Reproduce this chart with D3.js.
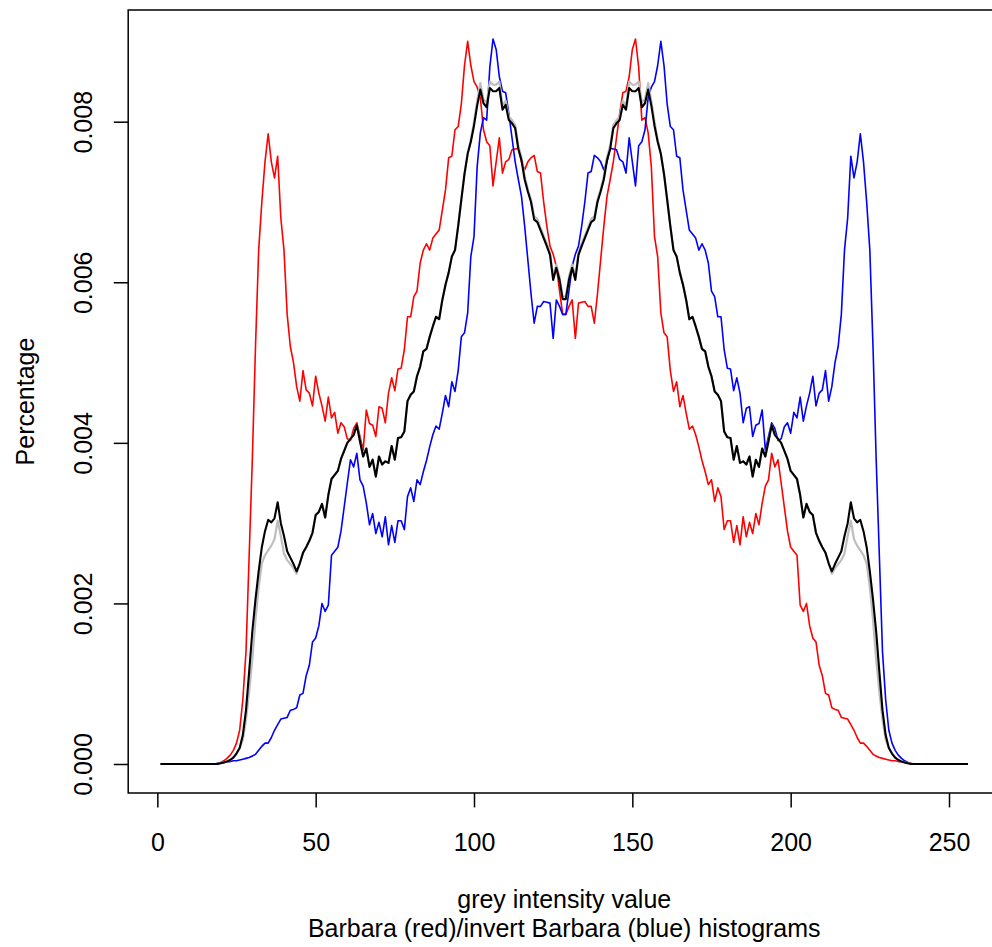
<html>
  <head>
    <meta charset="UTF-8" />
    <style>
      body { margin: 0; background: white; }
      text { font-family: "Liberation Sans", Arial, Helvetica, sans-serif; }
    </style>
    <script src="https://d3js.org/d3.v7.min.js"></script>
  </head>

  <body>
    <svg id="svg"></svg>

    <script>
      // grey level bins 1..256
      var levels = d3.range(1, 257);

      // histogram of Barbara
      var red = [
        0, 0, 0, 0, 0, 0, 0, 0, 0, 0, 0, 0, 0, 0, 0, 0,
        0, 0, 0, 0.00002, 0.00004, 0.00007, 0.00011, 0.00017, 0.00026, 0.00042, 0.0008, 0.0014, 0.0026, 0.0038, 0.0052, 0.0064,
        0.007, 0.0075, 0.00785, 0.0075, 0.0073, 0.00757, 0.0068, 0.0064, 0.0056, 0.0052, 0.005, 0.0047, 0.00452, 0.0049, 0.00466, 0.00462,
        0.00446, 0.00483, 0.00462, 0.00446, 0.00427, 0.00457, 0.00431, 0.00438, 0.00412, 0.00425, 0.0042, 0.00405, 0.00403, 0.00418, 0.00425, 0.00408,
        0.00391, 0.00441, 0.00424, 0.00422, 0.00408, 0.00445, 0.00443, 0.00425, 0.00462, 0.00481, 0.00465, 0.00492, 0.00493, 0.00516, 0.00557, 0.00557,
        0.00582, 0.00589, 0.00624, 0.0064, 0.00648, 0.0064, 0.00655, 0.0066, 0.00665, 0.0069, 0.00715, 0.00755, 0.00757, 0.0079, 0.00794, 0.00822,
        0.0087, 0.009, 0.0087, 0.0085, 0.00843, 0.0083, 0.0079, 0.00775, 0.0077, 0.0072, 0.0075, 0.0078, 0.00736, 0.0075, 0.00753, 0.00765,
        0.00766, 0.00767, 0.0075, 0.0074, 0.0075, 0.00755, 0.00758, 0.00738, 0.00736, 0.007, 0.0067, 0.00645, 0.00635, 0.0062, 0.0059, 0.0056,
        0.0056, 0.0057, 0.00578, 0.0053, 0.00574, 0.00575, 0.00576, 0.0057, 0.0057, 0.00549, 0.00586, 0.00628, 0.0067, 0.00707, 0.00728, 0.0075,
        0.0078, 0.0081, 0.00836, 0.00838, 0.00856, 0.0089, 0.00903, 0.00868, 0.00802, 0.00805, 0.00786, 0.00744, 0.00657, 0.00632, 0.00562, 0.00537,
        0.00532, 0.0049, 0.00464, 0.00476, 0.00445, 0.00459, 0.00437, 0.00417, 0.00421, 0.0041, 0.00395, 0.00378, 0.00364, 0.00348, 0.00354, 0.00327,
        0.00344, 0.00333, 0.00292, 0.00303, 0.00303, 0.00276, 0.00297, 0.00273, 0.00308, 0.00283, 0.00301, 0.00287, 0.00312, 0.00298, 0.00325, 0.00346,
        0.00354, 0.00387, 0.0037, 0.00379, 0.0035, 0.0032, 0.0029, 0.0027, 0.00265, 0.0026, 0.00198, 0.0019, 0.002, 0.00172, 0.00157, 0.00152,
        0.00123, 0.0011, 0.00088, 0.00086, 0.0007, 0.00068, 0.00067, 0.00058, 0.00057, 0.00056, 0.00049, 0.00042, 0.00033, 0.00026, 0.00026, 0.00022,
        0.00017, 0.00012, 0.0001, 0.00008, 0.00007, 0.00006, 0.00005, 0.00004, 0.00004, 0.00003, 0.00003, 0.00002, 0.00001, 0.00001, 0, 0,
        0, 0, 0, 0, 0, 0, 0, 0, 0, 0, 0, 0, 0, 0, 0, 0
      ];

      // histogram of the inverted Barbara
      var blue = [
        0, 0, 0, 0, 0, 0, 0, 0, 0, 0, 0, 0, 0, 0, 0, 0,
        0, 0, 0.00001, 0.00001, 0.00002, 0.00003, 0.00003, 0.00004, 0.00004, 0.00005, 0.00006, 0.00007, 0.00008, 0.0001, 0.00012, 0.00017,
        0.00022, 0.00026, 0.00026, 0.00033, 0.00042, 0.00049, 0.00056, 0.00057, 0.00058, 0.00067, 0.00068, 0.0007, 0.00086, 0.00088, 0.0011, 0.00123,
        0.00152, 0.00157, 0.00172, 0.002, 0.0019, 0.00198, 0.0026, 0.00265, 0.0027, 0.0029, 0.0032, 0.0035, 0.00379, 0.0037, 0.00387, 0.00354,
        0.00346, 0.00325, 0.00298, 0.00312, 0.00287, 0.00301, 0.00283, 0.00308, 0.00273, 0.00297, 0.00276, 0.00303, 0.00303, 0.00292, 0.00333, 0.00344,
        0.00327, 0.00354, 0.00348, 0.00364, 0.00378, 0.00395, 0.0041, 0.00421, 0.00417, 0.00437, 0.00459, 0.00445, 0.00476, 0.00464, 0.0049, 0.00532,
        0.00537, 0.00562, 0.00632, 0.00657, 0.00744, 0.00786, 0.00805, 0.00802, 0.00868, 0.00903, 0.0089, 0.00856, 0.00838, 0.00836, 0.0081, 0.0078,
        0.0075, 0.00728, 0.00707, 0.0067, 0.00628, 0.00586, 0.00549, 0.0057, 0.0057, 0.00576, 0.00575, 0.00574, 0.0053, 0.00578, 0.0057, 0.0056,
        0.0056, 0.0059, 0.0062, 0.00635, 0.00645, 0.0067, 0.007, 0.00736, 0.00738, 0.00758, 0.00755, 0.0075, 0.0074, 0.0075, 0.00767, 0.00766,
        0.00765, 0.00753, 0.0075, 0.00736, 0.0078, 0.0075, 0.0072, 0.0077, 0.00775, 0.0079, 0.0083, 0.00843, 0.0085, 0.0087, 0.009, 0.0087,
        0.00822, 0.00794, 0.0079, 0.00757, 0.00755, 0.00715, 0.0069, 0.00665, 0.0066, 0.00655, 0.0064, 0.00648, 0.0064, 0.00624, 0.00589, 0.00582,
        0.00557, 0.00557, 0.00516, 0.00493, 0.00492, 0.00465, 0.00481, 0.00462, 0.00425, 0.00443, 0.00445, 0.00408, 0.00422, 0.00424, 0.00441, 0.00391,
        0.00408, 0.00425, 0.00418, 0.00403, 0.00405, 0.0042, 0.00425, 0.00412, 0.00438, 0.00431, 0.00457, 0.00427, 0.00446, 0.00462, 0.00483, 0.00446,
        0.00462, 0.00466, 0.0049, 0.00452, 0.0047, 0.005, 0.0052, 0.0056, 0.0064, 0.0068, 0.00757, 0.0073, 0.0075, 0.00785, 0.0075, 0.007,
        0.0064, 0.0052, 0.0038, 0.0026, 0.0014, 0.0008, 0.00042, 0.00026, 0.00017, 0.00011, 0.00007, 0.00004, 0.00002, 0, 0, 0,
        0, 0, 0, 0, 0, 0, 0, 0, 0, 0, 0, 0, 0, 0, 0, 0
      ];

      // combined histogram (black)
      var combined = [
        0, 0, 0, 0, 0, 0, 0, 0, 0, 0, 0, 0, 0, 0, 0, 0,
        0, 0, 0, 0.00001, 0.00002, 0.00003, 0.00005, 0.00008, 0.00013, 0.0002, 0.00036, 0.00067, 0.00115, 0.00165, 0.00205, 0.0024,
        0.0027, 0.0029, 0.00304, 0.00301, 0.00306, 0.00326, 0.003, 0.00284, 0.00265, 0.00257, 0.00249, 0.0024, 0.0025, 0.00263, 0.0027, 0.00278,
        0.00288, 0.0031, 0.00314, 0.00324, 0.00307, 0.00335, 0.00355, 0.0036, 0.00365, 0.0038, 0.0039, 0.004, 0.00405, 0.0041, 0.00422, 0.00402,
        0.00383, 0.00393, 0.0037, 0.00379, 0.00358, 0.00383, 0.00373, 0.00377, 0.00375, 0.00396, 0.00379, 0.00406, 0.00407, 0.00414, 0.00452, 0.0046,
        0.00464, 0.00483, 0.00495, 0.00514, 0.00517, 0.00532, 0.00545, 0.00557, 0.00554, 0.00578, 0.00597, 0.00612, 0.00632, 0.0064, 0.0067, 0.00703,
        0.00735, 0.0076, 0.00775, 0.00795, 0.0082, 0.0084, 0.00823, 0.00818, 0.00842, 0.00838, 0.00838, 0.00842, 0.00815, 0.00821, 0.00802, 0.00798,
        0.00792, 0.00766, 0.00752, 0.00728, 0.00713, 0.007, 0.00678, 0.00675, 0.00665, 0.00655, 0.00645, 0.00634, 0.00603, 0.00618, 0.00603, 0.00579,
        0.00579, 0.00603, 0.00618, 0.00603, 0.00634, 0.00645, 0.00655, 0.00665, 0.00675, 0.00678, 0.007, 0.00713, 0.00728, 0.00752, 0.00766, 0.00792,
        0.00798, 0.00802, 0.00821, 0.00815, 0.00842, 0.00838, 0.00838, 0.00842, 0.00818, 0.00823, 0.0084, 0.0082, 0.00795, 0.00775, 0.0076, 0.00735,
        0.00703, 0.0067, 0.0064, 0.00632, 0.00612, 0.00597, 0.00578, 0.00554, 0.00557, 0.00545, 0.00532, 0.00517, 0.00514, 0.00495, 0.00483, 0.00464,
        0.0046, 0.00452, 0.00414, 0.00407, 0.00406, 0.00379, 0.00396, 0.00375, 0.00377, 0.00373, 0.00383, 0.00358, 0.00379, 0.0037, 0.00393, 0.00383,
        0.00402, 0.00422, 0.0041, 0.00405, 0.004, 0.0039, 0.0038, 0.00365, 0.0036, 0.00355, 0.00335, 0.00307, 0.00324, 0.00314, 0.0031, 0.00288,
        0.00278, 0.0027, 0.00263, 0.0025, 0.0024, 0.00249, 0.00257, 0.00265, 0.00284, 0.003, 0.00326, 0.00306, 0.00301, 0.00304, 0.0029, 0.0027,
        0.0024, 0.00205, 0.00165, 0.00115, 0.00067, 0.00036, 0.0002, 0.00013, 0.00008, 0.00005, 0.00003, 0.00002, 0.00001, 0, 0, 0,
        0, 0, 0, 0, 0, 0, 0, 0, 0, 0, 0, 0, 0, 0, 0, 0
      ];

      // smoothed version (grey, under the black one)
      var smoothed = [
        0, 0, 0, 0, 0, 0, 0, 0, 0, 0, 0, 0, 0, 0, 0, 0,
        0, 0, 0, 0.00001, 0.00002, 0.00003, 0.00005, 0.00008, 0.00013, 0.0002, 0.0003, 0.00055, 0.0009, 0.0013, 0.0018, 0.0022,
        0.0025, 0.0026, 0.00266, 0.00272, 0.0028, 0.00303, 0.00284, 0.00262, 0.00254, 0.00249, 0.00244, 0.00237, 0.0025, 0.00263, 0.0027, 0.00278,
        0.00288, 0.0031, 0.00314, 0.00324, 0.00307, 0.00335, 0.00355, 0.0036, 0.00365, 0.0038, 0.0039, 0.004, 0.00405, 0.0041, 0.00422, 0.00402,
        0.00383, 0.00393, 0.0037, 0.00379, 0.00358, 0.00383, 0.00373, 0.00377, 0.00375, 0.00396, 0.00379, 0.00406, 0.00407, 0.00414, 0.00452, 0.0046,
        0.00464, 0.00483, 0.00495, 0.00514, 0.00517, 0.00532, 0.00545, 0.00557, 0.00554, 0.00578, 0.00597, 0.00612, 0.00632, 0.0064, 0.0067, 0.00703,
        0.00735, 0.0076, 0.00778, 0.008, 0.00826, 0.00848, 0.00828, 0.00824, 0.0085, 0.00846, 0.00846, 0.0085, 0.0082, 0.00826, 0.00806, 0.00802,
        0.00796, 0.0077, 0.00756, 0.00732, 0.00716, 0.00703, 0.00682, 0.00679, 0.00668, 0.00658, 0.00648, 0.00637, 0.00608, 0.00622, 0.00607, 0.00582,
        0.00582, 0.00607, 0.00622, 0.00608, 0.00637, 0.00648, 0.00658, 0.00668, 0.00679, 0.00682, 0.00703, 0.00716, 0.00732, 0.00756, 0.0077, 0.00796,
        0.00802, 0.00806, 0.00826, 0.0082, 0.0085, 0.00846, 0.00846, 0.0085, 0.00824, 0.00828, 0.00848, 0.00826, 0.008, 0.00778, 0.0076, 0.00735,
        0.00703, 0.0067, 0.0064, 0.00632, 0.00612, 0.00597, 0.00578, 0.00554, 0.00557, 0.00545, 0.00532, 0.00517, 0.00514, 0.00495, 0.00483, 0.00464,
        0.0046, 0.00452, 0.00414, 0.00407, 0.00406, 0.00379, 0.00396, 0.00375, 0.00377, 0.00373, 0.00383, 0.00358, 0.00379, 0.0037, 0.00393, 0.00383,
        0.00402, 0.00422, 0.0041, 0.00405, 0.004, 0.0039, 0.0038, 0.00365, 0.0036, 0.00355, 0.00335, 0.00307, 0.00324, 0.00314, 0.0031, 0.00288,
        0.00278, 0.0027, 0.00263, 0.0025, 0.00237, 0.00244, 0.00249, 0.00254, 0.00262, 0.00284, 0.00303, 0.0028, 0.00272, 0.00266, 0.0026, 0.0025,
        0.0022, 0.0018, 0.0013, 0.0009, 0.00055, 0.0003, 0.0002, 0.00013, 0.00008, 0.00005, 0.00003, 0.00002, 0.00001, 0, 0, 0,
        0, 0, 0, 0, 0, 0, 0, 0, 0, 0, 0, 0, 0, 0, 0, 0
      ];

      var xTicks = [0, 50, 100, 150, 200, 250];
      var yTicks = [0, 0.002, 0.004, 0.006, 0.008];

      var xLabel = "grey intensity value",
        yLabel = "Percentage",
        subLabel = "Barbara (red)/invert Barbara (blue) histograms";

      var width = 992,
        height = 947;

      // plot region (R style, 4% padding on both axes)
      var plotLeft = 128.2,
        plotRight = 1000.3,
        plotTop = 10,
        plotBottom = 793,
        lineH = 28.8,
        fontSize = 25;

      var svg = d3.select("#svg").attr("width", width).attr("height", height);

      var xMin = d3.min(levels),
        xMax = d3.max(levels);
      var x = d3
        .scaleLinear()
        .domain([xMin - 0.04 * (xMax - xMin), xMax + 0.04 * (xMax - xMin)])
        .range([plotLeft, plotRight]);

      var yMax = d3.max([d3.max(red), d3.max(blue), d3.max(combined), d3.max(smoothed)]);
      var y = d3
        .scaleLinear()
        .domain([-0.04 * yMax, 1.04 * yMax])
        .range([plotBottom, plotTop]);

      var path = d3
        .line()
        .x((d, i) => x(levels[i]))
        .y((d) => y(d));

      function draw_series(values, color, w) {
        svg
          .append("path")
          .datum(values)
          .attr("fill", "none")
          .attr("stroke", color)
          .attr("stroke-width", w)
          .attr("stroke-linejoin", "round")
          .attr("d", path);
      }

      draw_series(red, "#ff0000", 1.6);
      draw_series(blue, "#0000ff", 1.6);
      draw_series(smoothed, "#bebebe", 2.2);
      draw_series(combined, "#000000", 2.1);

      // box
      svg
        .append("rect")
        .attr("x", plotLeft)
        .attr("y", plotTop)
        .attr("width", plotRight - plotLeft)
        .attr("height", plotBottom - plotTop)
        .attr("fill", "none")
        .attr("stroke", "black")
        .attr("stroke-width", 1.5);

      // x axis
      svg
        .append("g")
        .attr("transform", "translate(0," + plotBottom + ")")
        .call(
          d3.axisBottom(x).tickValues(xTicks).tickSize(lineH / 2).tickSizeOuter(0).tickFormat(d3.format("d"))
        )
        .call((g) => g.select(".domain").remove())
        .call((g) => g.selectAll("line").attr("stroke-width", 1.5))
        .call((g) =>
          g
            .selectAll("text")
            .attr("y", 2 * lineH)
            .attr("dy", null)
            .attr("fill", "black")
            .style("font-size", fontSize + "px")
            .style("font-family", "Liberation Sans, Arial, sans-serif")
        );

      // y axis
      svg
        .append("g")
        .attr("transform", "translate(" + plotLeft + ",0)")
        .call(
          d3.axisLeft(y).tickValues(yTicks).tickSize(lineH / 2).tickSizeOuter(0).tickFormat(d3.format(".3f"))
        )
        .call((g) => g.select(".domain").remove())
        .call((g) => g.selectAll("line").attr("stroke-width", 1.5))
        .call((g) =>
          g
            .selectAll("text")
            .attr("x", null)
            .attr("dy", null)
            .attr("text-anchor", "middle")
            .attr("transform", "translate(-36.7,0) rotate(-90)")
            .attr("fill", "black")
            .style("font-size", fontSize + "px")
            .style("font-family", "Liberation Sans, Arial, sans-serif")
        );

      // axis titles
      var midX = (plotLeft + plotRight) / 2,
        midY = (plotTop + plotBottom) / 2;

      svg
        .append("text")
        .attr("x", midX)
        .attr("y", plotBottom + 4 * lineH)
        .attr("text-anchor", "middle")
        .style("font-size", fontSize + "px")
        .text(xLabel);

      svg
        .append("text")
        .attr("x", midX)
        .attr("y", plotBottom + 5 * lineH)
        .attr("text-anchor", "middle")
        .style("font-size", fontSize + "px")
        .text(subLabel);

      svg
        .append("text")
        .attr("transform", "translate(" + (plotLeft - 36.7 - 2 * lineH) + "," + midY + ") rotate(-90)")
        .attr("text-anchor", "middle")
        .style("font-size", fontSize + "px")
        .text(yLabel);
    </script>
  </body>
</html>
